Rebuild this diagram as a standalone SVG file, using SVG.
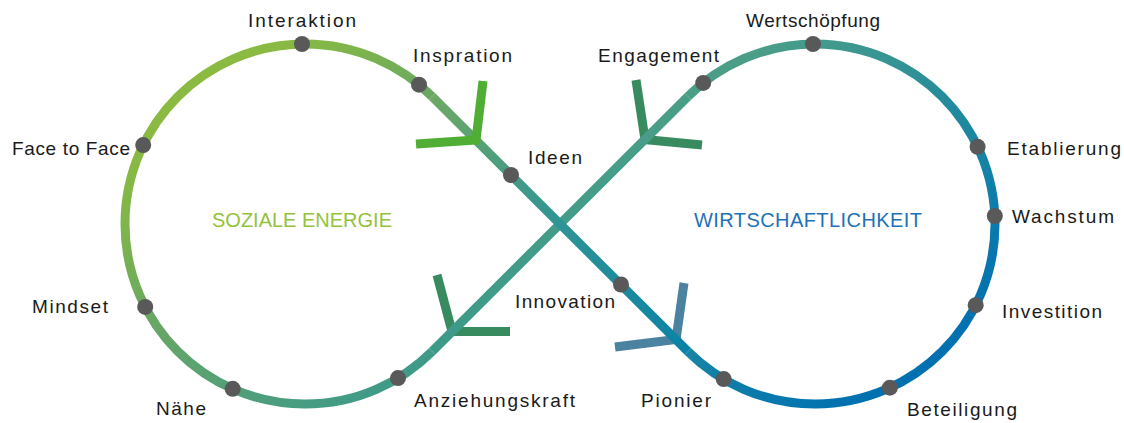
<svg xmlns="http://www.w3.org/2000/svg" width="1124" height="423" viewBox="0 0 1124 423">
<defs>
<linearGradient id="gA" gradientUnits="userSpaceOnUse" x1="200" y1="100" x2="420" y2="380">
<stop offset="0" stop-color="#8aba42"/>
<stop offset="0.15" stop-color="#7eb54b"/>
<stop offset="0.38" stop-color="#6aa862"/>
<stop offset="0.7" stop-color="#529f78"/>
<stop offset="1" stop-color="#3c9a8a"/>
</linearGradient>
<linearGradient id="gB" gradientUnits="userSpaceOnUse" x1="432" y1="351.5" x2="688" y2="96.5">
<stop offset="0" stop-color="#3d9a88"/>
<stop offset="1" stop-color="#4a9e88"/>
</linearGradient>
<linearGradient id="gC" gradientUnits="userSpaceOnUse" x1="700" y1="90" x2="900" y2="380">
<stop offset="0" stop-color="#4a9e88"/>
<stop offset="0.55" stop-color="#1a86a2"/>
<stop offset="0.8" stop-color="#0a7aad"/>
<stop offset="1" stop-color="#0070b0"/>
</linearGradient>
<linearGradient id="gD" gradientUnits="userSpaceOnUse" x1="688" y1="351.5" x2="432" y2="96.5">
<stop offset="0" stop-color="#0a82a6"/>
<stop offset="0.5" stop-color="#2e9496"/>
<stop offset="1" stop-color="#6ea964"/>
</linearGradient>
</defs>
<style>
.seg{fill:none;stroke-width:9;stroke-linecap:butt}
.arr{fill:none;stroke-width:9;stroke-linecap:butt;stroke-linejoin:miter}
.dot{fill:#595959}
.lbl{font-family:"Liberation Sans",Arial,sans-serif;font-size:19px;fill:#1a1a1a}
.big{font-family:"Liberation Sans",Arial,sans-serif;font-size:20px}
</style>
<rect width="1124" height="423" fill="#ffffff"/>
<g id="connectors">
<polyline class="arr" stroke="#388b5f" points="636,80 645,139.5 702,145"/>
<polyline class="arr" stroke="#388b5f" points="437,275 452,331.5 510,331.5"/>
<polyline class="arr" stroke="#4b829f" points="684,283 676,339.5 615,347"/>
<path class="seg" stroke="url(#gA)" d="M432.06 96.5 A180 180 0 1 0 432.06 351.5"/>
<path class="seg" stroke="url(#gB)" d="M432.06 351.5 L687.94 96.5"/>
<path class="seg" stroke="url(#gC)" d="M687.94 96.5 A180 180 0 1 1 687.94 351.5"/>
<path class="seg" stroke="url(#gD)" d="M687.94 351.5 L432.06 96.5"/>
<polyline class="arr" stroke="#4fae33" points="483,81 476,140 416,144"/>
</g>
<g id="n-interaktion"><circle class="dot" cx="302" cy="44" r="8"/><text class="lbl" x="248" y="27" textLength="108">Interaktion</text></g>
<g id="n-inspration"><circle class="dot" cx="419" cy="84.7" r="8"/><text class="lbl" x="413" y="62" textLength="99">Inspration</text></g>
<g id="n-ideen"><circle class="dot" cx="511" cy="175" r="8"/><text class="lbl" x="528" y="164" textLength="54">Ideen</text></g>
<g id="n-face"><circle class="dot" cx="143.2" cy="145.1" r="8"/><text class="lbl" x="12" y="155" textLength="118">Face to Face</text></g>
<g id="n-mindset"><circle class="dot" cx="145.2" cy="306.9" r="8"/><text class="lbl" x="32" y="313" textLength="76">Mindset</text></g>
<g id="n-naehe"><circle class="dot" cx="232.7" cy="388.8" r="8"/><text class="lbl" x="156" y="415" textLength="50">Nähe</text></g>
<g id="n-anziehungskraft"><circle class="dot" cx="398" cy="378.1" r="8"/><text class="lbl" x="414" y="407" textLength="161">Anziehungskraft</text></g>
<g id="n-innovation"><circle class="dot" cx="621" cy="284.5" r="8"/><text class="lbl" x="515" y="308" textLength="100">Innovation</text></g>
<g id="n-pionier"><circle class="dot" cx="723.7" cy="379.1" r="8"/><text class="lbl" x="641" y="407" textLength="70">Pionier</text></g>
<g id="n-beteiligung"><circle class="dot" cx="889.9" cy="387.7" r="8"/><text class="lbl" x="907" y="416" textLength="110">Beteiligung</text></g>
<g id="n-investition"><circle class="dot" cx="975.7" cy="305.2" r="8"/><text class="lbl" x="1002" y="318" textLength="100">Investition</text></g>
<g id="n-wachstum"><circle class="dot" cx="994.8" cy="216" r="8"/><text class="lbl" x="1012" y="223" textLength="102">Wachstum</text></g>
<g id="n-etablierung"><circle class="dot" cx="977.6" cy="146.8" r="8"/><text class="lbl" x="1007" y="155" textLength="114">Etablierung</text></g>
<g id="n-wertschoepfung"><circle class="dot" cx="813" cy="44" r="8"/><text class="lbl" x="746" y="27" textLength="134">Wertschöpfung</text></g>
<g id="n-engagement"><circle class="dot" cx="703.2" cy="82.9" r="8"/><text class="lbl" x="598" y="62" textLength="121">Engagement</text></g>
<g id="soziale-energie"><text class="big" x="212" y="227" textLength="180" fill="#95c23d">SOZIALE ENERGIE</text></g>
<g id="wirtschaftlichkeit"><text class="big" x="694" y="227" textLength="228" fill="#1d71b8">WIRTSCHAFTLICHKEIT</text></g>
</svg>
